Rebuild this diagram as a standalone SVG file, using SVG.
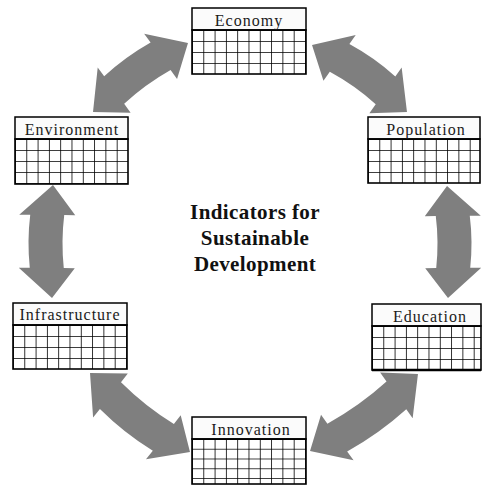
<svg xmlns="http://www.w3.org/2000/svg" width="482" height="485" viewBox="0 0 482 485">
<defs>
<pattern id="grid" width="11.3" height="11" patternUnits="userSpaceOnUse">
<path d="M0,0 V11 M0,0 H11.3" fill="none" stroke="#000" stroke-width="1.6"/>
</pattern>
<pattern id="gridI" width="11.3" height="9.75" patternUnits="userSpaceOnUse">
<path d="M0,0 V9.75 M0,0 H11.3" fill="none" stroke="#000" stroke-width="1.6"/>
</pattern>
</defs>
<style>
.hdr{fill:#fbfbfb;stroke:#000;stroke-width:1.5}
.box{fill:none;stroke:#000;stroke-width:1.6}
.lbl{font-family:"Liberation Serif","Times New Roman",serif;font-size:16px;letter-spacing:1px;fill:#1a1a1a;text-anchor:middle}
.title{font-family:"Liberation Serif","Times New Roman",serif;font-size:21px;font-weight:bold;letter-spacing:0.4px;fill:#111;text-anchor:middle}
.arr{fill:#7f7f7f}
</style>
<rect width="482" height="485" fill="#fff"/>
<g id="connectors" class="arr">
<path transform="translate(52.5,241.5) rotate(-89.5)" d="M-56.5,0 L-26.5,-33.5 L-26.5,-22.5 Q0,-25.5 26.5,-22.5 L26.5,-33.5 L56.5,0 L26.5,22.5 L26.5,11.5 Q0,8.5 -26.5,11.5 L-26.5,22.5 Z"/>
<path transform="translate(447.5,242) rotate(89.5)" d="M-56,0 L-26,-33.5 L-26,-22.5 Q0,-25.5 26,-22.5 L26,-33.5 L56,0 L26,22.5 L26,11.5 Q0,8.5 -26,11.5 L-26,22.5 Z"/>
<path transform="translate(140.5,77.5) rotate(-36)" d="M-58.7,0 L-28.7,-33.3 L-28.7,-22.3 Q0,-25.6 28.7,-22.3 L28.7,-33.3 L58.7,0 L28.7,22.7 L28.7,11.7 Q0,8.4 -28.7,11.7 L-28.7,22.7 Z"/>
<path transform="translate(359.5,78.5) rotate(35.2)" d="M-58.1,0 L-28.1,-33.3 L-28.1,-22.3 Q0,-25.6 28.1,-22.3 L28.1,-33.3 L58.1,0 L28.1,22.7 L28.1,11.7 Q0,8.4 -28.1,11.7 L-28.1,22.7 Z"/>
<path transform="translate(140,412.5) rotate(-141.7)" d="M-63.7,0 L-33.7,-33 L-33.7,-22 Q0,-25.9 33.7,-22 L33.7,-33 L63.7,0 L33.7,23 L33.7,12 Q0,8.1 -33.7,12 L-33.7,23 Z"/>
<path transform="translate(364,412.5) rotate(144.5)" d="M-66.3,0 L-36.3,-32.9 L-36.3,-21.9 Q0,-26.1 36.3,-21.9 L36.3,-32.9 L66.3,0 L36.3,23.1 L36.3,12.1 Q0,7.9 -36.3,12.1 L-36.3,23.1 Z"/>
</g>
<g id="economy" transform="translate(192,8)">
<rect class="hdr" width="114" height="22"/>
<g transform="translate(0,22)"><rect width="114" height="44" fill="url(#grid)"/><rect class="box" width="114" height="44"/></g>
<text class="lbl" x="57" y="18">Economy</text>
</g>
<g id="environment" transform="translate(15,117)">
<rect class="hdr" width="113" height="22"/>
<g transform="translate(0,22)"><rect width="113" height="45" fill="url(#grid)"/><rect class="box" width="113" height="45"/></g>
<text class="lbl" x="57" y="18">Environment</text>
</g>
<g id="population" transform="translate(368,117)">
<rect class="hdr" width="112" height="22"/>
<g transform="translate(0,22)"><rect width="112" height="44" fill="url(#grid)"/><rect class="box" width="112" height="44"/></g>
<text class="lbl" x="58" y="18">Population</text>
</g>
<g id="infrastructure" transform="translate(13,303)">
<rect class="hdr" width="114" height="22"/>
<g transform="translate(0,22)"><rect width="114" height="44" fill="url(#grid)"/><rect class="box" width="114" height="44"/></g>
<text class="lbl" x="57" y="17">Infrastructure</text>
</g>
<g id="education" transform="translate(372,304)">
<rect class="hdr" width="109" height="22"/>
<g transform="translate(0,22)"><rect width="109" height="44" fill="url(#grid)"/><rect class="box" width="109" height="44"/><line x1="0" y1="44" x2="109" y2="44" stroke="#000" stroke-width="2.6"/></g>
<text class="lbl" x="58" y="18">Education</text>
</g>
<g id="innovation" transform="translate(192,417)">
<rect class="hdr" width="114" height="22"/>
<g transform="translate(0,22)"><rect width="114" height="45" fill="url(#gridI)"/><rect class="box" width="114" height="45"/></g>
<text class="lbl" x="59" y="18">Innovation</text>
</g>
<g id="title">
<text class="title" x="255" y="219">Indicators for</text>
<text class="title" x="255" y="245">Sustainable</text>
<text class="title" x="255" y="271">Development</text>
</g>
</svg>
